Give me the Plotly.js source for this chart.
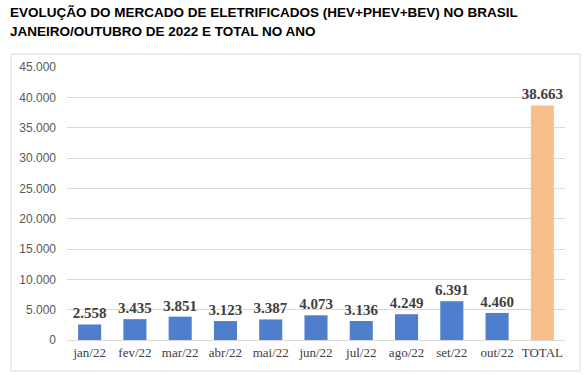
<!DOCTYPE html>
<html><head><meta charset="utf-8">
<script src="https://cdn.plot.ly/plotly-3.0.1.min.js"></script>
<style>body{margin:0;background:#fff}#c{width:588px;height:375px}</style>
</head><body><div id="c"></div>
<script>
var categories = ['jan/22','fev/22','mar/22','abr/22','mai/22','jun/22','jul/22','ago/22','set/22','out/22','TOTAL'];
var values = [2558, 3435, 3851, 3123, 3387, 4073, 3136, 4249, 6391, 4460, 38663];
var barColors = ['#4f7fcc','#4f7fcc','#4f7fcc','#4f7fcc','#4f7fcc','#4f7fcc','#4f7fcc','#4f7fcc','#4f7fcc','#4f7fcc','#f8bf8a'];
var yTicks = [0,5000,10000,15000,20000,25000,30000,35000,40000,45000];
var titleLines = ['EVOLUÇÃO DO MERCADO DE ELETRIFICADOS (HEV+PHEV+BEV) NO BRASIL','JANEIRO/OUTUBRO DE 2022 E TOTAL NO ANO'];

var trace = {
  type:'bar', x:categories, y:values,
  marker:{color:barColors},
  texttemplate:'%{y:,}', textposition:'outside', cliponaxis:false, constraintext:'none',
  textfont:{family:'Liberation Serif', size:15, color:'#404040', weight:'bold'},
  hoverinfo:'none'
};
var titleFont = {family:'Liberation Sans', size:13.5, color:'#000', weight:'bold'};
var layout = {
  width:588, height:375,
  margin:{l:67, r:23, t:67, b:35},
  separators:',.',
  paper_bgcolor:'#fff', plot_bgcolor:'#fff',
  bargap:0.49,
  showlegend:false,
  annotations:[
    {text:titleLines[0], xref:'paper', yref:'paper', x:-59/498, xanchor:'left', y:(340-12.5)/273, yanchor:'middle', showarrow:false, font:titleFont},
    {text:titleLines[1], xref:'paper', yref:'paper', x:-59/498, xanchor:'left', y:(340-31.5)/273, yanchor:'middle', showarrow:false, font:titleFont}
  ],
  xaxis:{tickfont:{family:'Liberation Serif', size:13, color:'#404040'}, showline:true, linecolor:'#d9d9d9', ticks:'', fixedrange:true},
  yaxis:{range:[0,45000], tickvals:yTicks, tickformat:',', tickfont:{family:'Liberation Sans', size:12, color:'#595959'},
    gridcolor:'#d9d9d9', zeroline:false, ticklabelstandoff:10, fixedrange:true},
  shapes:[{type:'rect', xref:'paper', yref:'paper', x0:(11-67)/498, x1:(580-67)/498, y0:(340-371)/273, y1:(340-54)/273,
    line:{color:'#d9d9d9', width:1}, fillcolor:'rgba(0,0,0,0)'}]
};
Plotly.newPlot('c',[trace],layout,{displayModeBar:false, staticPlot:true});
</script></body></html>
